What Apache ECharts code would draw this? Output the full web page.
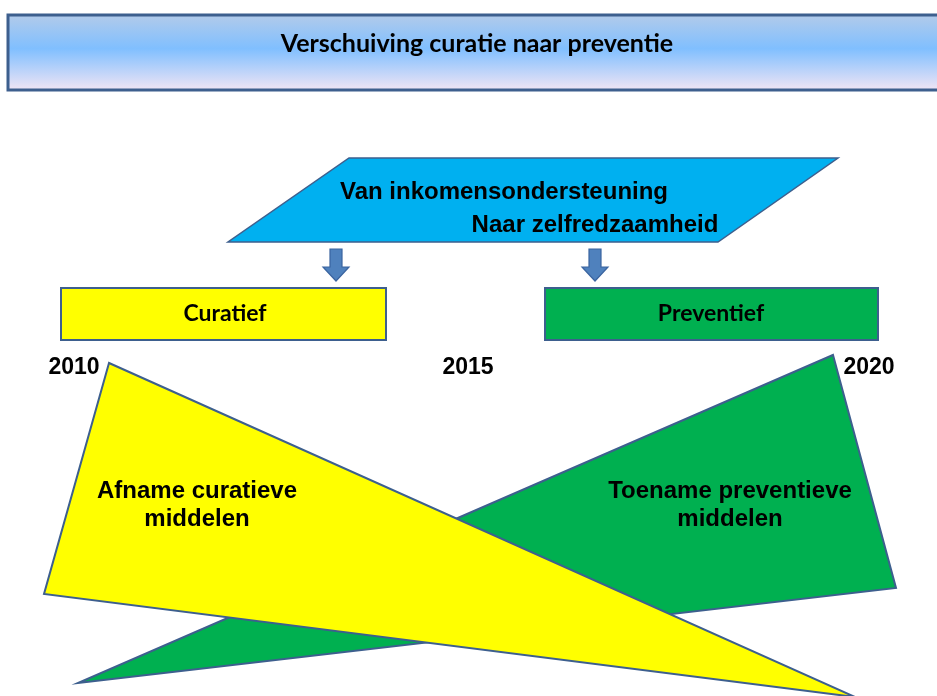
<!DOCTYPE html>
<html>
<head>
<meta charset="utf-8">
<script src="https://cdn.jsdelivr.net/npm/echarts@6/dist/echarts.min.js"></script>
<style>
  html, body { margin: 0; padding: 0; background: #fff; }
  #chart { width: 937px; height: 696px; }
</style>
</head>
<body>
<div id="chart"></div>
<script>
// texts
const titleText = 'Verschuiving curatie naar preventie';
const shiftLines = ['Van inkomensondersteuning', 'Naar zelfredzaamheid'];
const categories = ['Curatief', 'Preventief'];
const years = ['2010', '2015', '2020'];
const trendLabels = ['Afname curatieve\nmiddelen', 'Toename preventieve\nmiddelen'];

// shapes, in the page's own units (x 0..937, y 0..696 from the top)
const bannerShape = [[8, 15], [950, 15], [950, 90], [8, 90]];
const shiftShape = [[349, 158], [838, 158], [718, 242], [228, 242]];
const categoryShapes = [
    [[61, 288], [386, 288], [386, 340], [61, 340]],
    [[545, 288], [878, 288], [878, 340], [545, 340]]
];
const greenTriangle = [[833, 355], [896, 588], [78, 683]];
const yellowTriangle = [[109, 363], [44, 594], [855, 697]];
const arrowTops = [[336, 249], [595, 249]];
const titlePoint = [[477, 44]];
const shiftPoints = [[504, 192], [595, 225]];
const categoryPoints = [[225, 314], [711, 314]];
const yearPoints = [[74, 368], [468, 368], [869, 368]];
const trendPoints = [[197, 505], [730, 505]];

const chart = echarts.init(document.getElementById('chart'));

const edge = '#3d5f8e';

function polySeries(name, shapes, fill, lineWidth) {
    return {
        name: name,
        type: 'custom',
        coordinateSystem: 'cartesian2d',
        silent: true,
        data: shapes.map((s, i) => [i]),
        renderItem: (params, api) => {
            const pts = shapes[params.dataIndex].map(p => api.coord(p));
            return {
                type: 'polygon',
                shape: { points: pts },
                style: { fill: fill, stroke: edge, lineWidth: lineWidth }
            };
        }
    };
}

function textSeries(name, points, texts, font) {
    return {
        name: name,
        type: 'custom',
        coordinateSystem: 'cartesian2d',
        silent: true,
        data: points,
        renderItem: (params, api) => {
            const c = api.coord([api.value(0), api.value(1)]);
            return {
                type: 'text',
                x: c[0],
                y: c[1],
                style: Object.assign({
                    text: texts[params.dataIndex],
                    align: 'center',
                    verticalAlign: 'middle',
                    fill: '#000'
                }, font)
            };
        }
    };
}

const arialBold = { fontFamily: 'Liberation Sans, Arial, sans-serif', fontWeight: 'bold' };
const calibriBold = { fontFamily: 'Lato, Carlito, sans-serif', fontWeight: 'bold' };

const options = {
    animation: false,
    backgroundColor: '#fff',
    grid: { left: 0, right: 0, top: 0, bottom: 0 },
    xAxis: { type: 'value', min: 0, max: 937, show: false },
    yAxis: { type: 'value', min: 0, max: 696, inverse: true, show: false },
    series: [
        polySeries('banner', [bannerShape], new echarts.graphic.LinearGradient(0, 0, 0, 1, [
            { offset: 0, color: '#b4cbe9' },
            { offset: 0.45, color: '#80bfff' },
            { offset: 1, color: '#f4e6f4' }
        ]), 3),
        textSeries('title', titlePoint, [titleText], Object.assign({ fontSize: 25 }, calibriBold)),
        polySeries('shift', [shiftShape], '#00b0f0', 1.5),
        textSeries('shiftText', shiftPoints, shiftLines, Object.assign({ fontSize: 24 }, arialBold)),
        {
            name: 'arrows',
            type: 'custom',
            coordinateSystem: 'cartesian2d',
            silent: true,
            data: arrowTops,
            renderItem: (params, api) => {
                const c = api.coord([api.value(0), api.value(1)]);
                const x = c[0], y = c[1];
                return {
                    type: 'polygon',
                    shape: {
                        points: [
                            [x - 6, y], [x + 6, y], [x + 6, y + 18], [x + 13, y + 18],
                            [x, y + 32], [x - 13, y + 18], [x - 6, y + 18]
                        ]
                    },
                    style: { fill: '#4f81bd', stroke: '#3a64a0', lineWidth: 1.2 }
                };
            }
        },
        polySeries('curatief', [categoryShapes[0]], '#ffff00', 2),
        polySeries('preventief', [categoryShapes[1]], '#00b050', 2),
        textSeries('categories', categoryPoints, categories, Object.assign({ fontSize: 23 }, calibriBold)),
        textSeries('years', yearPoints, years, Object.assign({ fontSize: 23 }, arialBold)),
        polySeries('toename', [greenTriangle], '#00b050', 2),
        polySeries('afname', [yellowTriangle], '#ffff00', 2),
        textSeries('trends', trendPoints, trendLabels, Object.assign({ fontSize: 24, lineHeight: 28 }, arialBold))
    ]
};

chart.setOption(options);
</script>
</body>
</html>
